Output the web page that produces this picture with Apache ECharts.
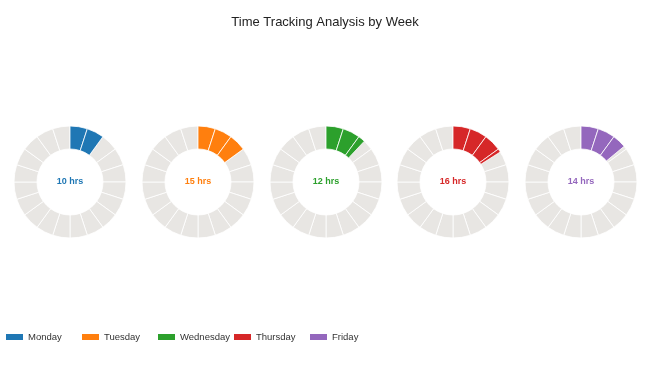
<!DOCTYPE html>
<html>
<head>
<meta charset="utf-8">
<script src="https://cdn.jsdelivr.net/npm/echarts@6/dist/echarts.min.js"></script>
<style>html,body{margin:0;padding:0;background:#fff}#c{width:650px;height:365px}</style>
</head>
<body>
<div id="c"></div>
<script>
var days = ['Monday', 'Tuesday', 'Wednesday', 'Thursday', 'Friday'];
var hours = [10, 15, 12, 16, 14];
var colors = ['#1f77b4', '#ff7f0e', '#2ca02c', '#d62728', '#9467bd'];
var segmentSize = 5;
var totalHours = 100;
var centersX = [70, 198, 326, 453, 581];
var legendLeft = [6, 82, 158, 234, 310];

var chart = echarts.init(document.getElementById('c'));
var font = 'Liberation Sans, Arial, sans-serif';
var series = [];
var legends = [];
days.forEach(function (d, i) {
  var bg = [];
  for (var k = 0; k < totalHours / segmentSize; k++) {
    bg.push({ value: segmentSize, name: 'bg' + k });
  }
  series.push({
    type: 'pie', name: 'bg-' + d, silent: true,
    center: [centersX[i], 182], radius: [33, 56],
    label: { show: false }, labelLine: { show: false },
    itemStyle: { color: '#e8e6e3', borderColor: '#fff', borderWidth: 0.8 },
    emphasis: { disabled: true },
    data: bg
  });
  var fg = [];
  var rem = hours[i];
  var idx = 0;
  while (rem > 0) {
    var v = Math.min(segmentSize, rem);
    fg.push({ value: v, name: d + idx, itemStyle: { color: colors[i], borderColor: '#fff', borderWidth: 0.8 } });
    rem -= v; idx++;
  }
  fg.push({ value: totalHours - hours[i], name: d + '-rest', itemStyle: { color: 'transparent', borderWidth: 0 } });
  fg[0].label = {
    show: true, position: 'center', formatter: hours[i] + ' hrs',
    color: colors[i], fontSize: 9, fontWeight: 'bold', fontFamily: font
  };
  series.push({
    type: 'pie', name: d, silent: true,
    center: [centersX[i], 182], radius: [33, 56],
    label: { show: false }, labelLine: { show: false },
    emphasis: { disabled: true },
    data: fg
  });
  legends.push({
    left: legendLeft[i], top: 332, padding: 0,
    itemWidth: 17, itemHeight: 6, itemGap: 4, selectedMode: false,
    textStyle: { fontSize: 9.5, color: '#333', fontFamily: font },
    data: [{ name: d, icon: 'rect', itemStyle: { color: colors[i] } }]
  });
});

chart.setOption({
  animation: false,
  title: {
    text: 'Time Tracking Analysis by Week', left: 'center', top: 16, padding: 0,
    textStyle: { fontSize: 13, fontWeight: 'normal', color: '#222', fontFamily: font }
  },
  legend: legends,
  series: series
});
</script>
</body>
</html>
